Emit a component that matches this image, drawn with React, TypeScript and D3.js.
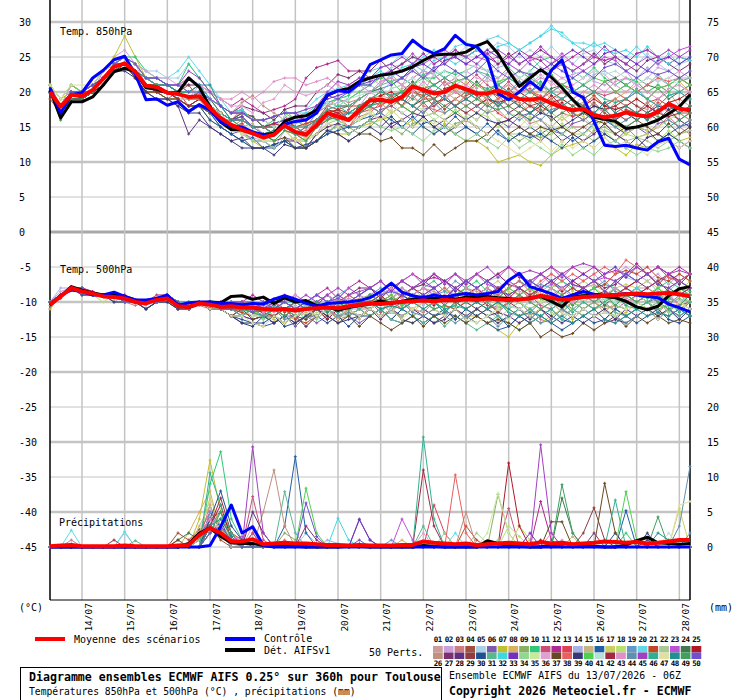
import React, { useEffect, useRef } from 'react';
import * as d3 from 'd3';

// 6-hourly steps, 13/07 06Z -> 28/07 06Z (61 steps)
const DAYS = ['14/07', '15/07', '16/07', '17/07', '18/07', '19/07', '20/07', '21/07', '22/07', '23/07', '24/07', '25/07', '26/07', '27/07', '28/07'];
const LEFT_TICKS = [30, 25, 20, 15, 10, 5, 0, -5, -10, -15, -20, -25, -30, -35, -40, -45];
const RIGHT_TICKS = [75, 70, 65, 60, 55, 50, 45, 40, 35, 30, 25, 20, 15, 10, 5, 0];

// Temp 850hPa
const MEAN_850 = [20.0, 17.9, 19.6, 19.4, 20.3, 21.9, 23.6, 24.1, 22.9, 20.9, 20.7, 19.9, 19.7, 19.3, 19.4, 17.7, 16.3, 15.3, 14.6, 14.1, 13.5, 13.9, 15.2, 14.3, 13.9, 15.3, 17.0, 16.5, 16.0, 17.4, 18.8, 18.9, 18.6, 19.3, 20.8, 20.3, 19.8, 20.0, 20.9, 20.4, 19.8, 19.8, 20.2, 19.7, 19.0, 18.9, 19.1, 18.4, 17.8, 17.4, 17.6, 16.7, 16.4, 16.6, 17.1, 16.7, 16.5, 17.2, 18.3, 17.6, 17.4];
const CTRL_850 = [20.6, 17.0, 19.6, 19.9, 22.0, 23.1, 24.6, 25.1, 22.5, 18.9, 19.0, 18.1, 18.6, 17.2, 18.2, 17.4, 15.7, 15.1, 15.0, 14.3, 13.9, 13.9, 15.4, 15.8, 16.0, 17.0, 19.6, 20.2, 20.0, 21.2, 23.9, 24.6, 25.3, 25.5, 27.4, 26.2, 25.5, 26.2, 28.1, 26.8, 26.5, 24.8, 19.8, 18.9, 20.0, 21.5, 20.3, 23.1, 24.6, 20.0, 19.2, 15.8, 12.4, 12.2, 12.4, 12.0, 11.7, 12.9, 13.4, 10.4, 9.6];
const DET_850 = [20.3, 16.3, 18.6, 18.6, 19.3, 21.0, 22.9, 23.4, 22.9, 20.6, 20.4, 19.9, 19.9, 22.0, 20.7, 17.9, 15.7, 14.6, 14.6, 14.1, 13.9, 14.1, 15.8, 16.4, 16.6, 17.4, 19.5, 20.2, 20.5, 21.5, 22.0, 22.4, 22.6, 23.0, 23.6, 24.5, 25.3, 25.4, 25.4, 25.7, 26.6, 27.2, 25.5, 23.0, 20.8, 22.0, 23.2, 22.1, 20.6, 18.9, 17.4, 16.4, 16.1, 15.8, 14.8, 15.0, 15.4, 16.0, 16.9, 17.9, 19.6];

// Temp 500hPa
const MEAN_500 = [-10.4, -9.2, -8.0, -8.5, -8.8, -9.2, -9.3, -9.5, -10.0, -10.2, -9.7, -9.5, -10.6, -10.7, -10.2, -10.4, -10.7, -10.6, -10.8, -10.8, -11.0, -11.1, -11.0, -11.2, -11.0, -10.9, -10.8, -10.9, -10.6, -10.4, -10.2, -10.3, -10.1, -10.0, -9.9, -9.8, -9.9, -9.7, -9.8, -9.6, -9.7, -9.5, -9.6, -9.7, -9.6, -9.5, -9.1, -9.4, -9.7, -9.5, -9.3, -9.2, -9.1, -9.0, -8.9, -8.8, -8.9, -8.8, -8.7, -8.9, -9.2];
const CTRL_500 = [-10.5, -9.0, -8.3, -8.5, -9.0, -9.0, -8.6, -9.2, -9.7, -9.7, -9.5, -9.0, -10.5, -10.1, -10.0, -10.0, -10.2, -10.2, -10.4, -10.2, -10.3, -9.6, -9.1, -9.6, -10.2, -10.6, -10.2, -10.1, -10.0, -9.8, -9.4, -8.5, -7.3, -8.6, -9.1, -9.4, -9.0, -9.3, -9.0, -8.8, -9.0, -8.8, -8.5, -6.9, -5.9, -7.8, -8.3, -8.8, -9.5, -9.0, -8.5, -8.9, -9.0, -9.0, -8.8, -9.0, -9.2, -9.4, -10.3, -10.8, -11.4];
const DET_500 = [-10.4, -9.2, -7.8, -8.3, -8.7, -9.0, -8.9, -9.2, -9.7, -10.0, -9.5, -9.2, -10.4, -10.8, -10.2, -10.0, -10.1, -9.2, -9.1, -9.6, -9.3, -10.2, -9.4, -10.0, -9.8, -10.5, -10.7, -11.2, -10.8, -10.5, -10.3, -9.8, -10.2, -9.9, -9.6, -9.3, -9.5, -9.2, -9.6, -9.3, -9.2, -9.2, -9.4, -9.5, -9.7, -9.4, -9.2, -9.9, -10.7, -9.2, -9.1, -9.0, -9.2, -9.4, -9.9, -10.7, -11.1, -10.6, -9.1, -8.1, -7.8];

// Precipitation (mm)
const MEAN_PREC = [0.1, 0.2, 0.3, 0.1, 0.1, 0.1, 0.1, 0.2, 0.1, 0.1, 0.1, 0.1, 0.2, 0.3, 1.7, 2.7, 2.0, 0.8, 0.8, 1.1, 0.4, 0.5, 0.6, 0.5, 0.5, 0.4, 0.3, 0.3, 0.2, 0.3, 0.2, 0.2, 0.2, 0.3, 0.3, 0.8, 0.6, 0.5, 0.4, 0.5, 0.3, 0.4, 0.5, 0.6, 0.5, 0.4, 0.7, 0.5, 0.6, 0.4, 0.5, 0.6, 0.8, 0.7, 0.6, 0.7, 0.5, 0.6, 0.8, 1.0, 1.0];
const CTRL_PREC = [0, 0, 0, 0, 0, 0, 0, 0, 0, 0, 0, 0, 0, 0, 0, 0.2, 2.9, 6.0, 2.0, 2.9, 0.2, 0, 0, 0, 0, 0, 0, 0, 0, 0, 0, 0, 0, 0, 0, 0, 0, 0, 0, 0, 0, 0, 0, 0, 0, 0, 0, 0, 0, 0, 0, 0, 0, 0, 0, 0, 0, 0, 0, 0, 0];
const DET_PREC = [0, 0, 0, 0, 0, 0, 0, 0, 0, 0, 0, 0, 0, 0.5, 2.0, 2.7, 1.5, 0.6, 0.5, 0.5, 0.2, 0.1, 0.1, 0.1, 0, 0, 0, 0, 0.1, 0.1, 0, 0, 0, 0, 0, 0.2, 0.1, 0, 0, 0, 0, 0.9, 0.5, 0.2, 0.1, 0, 0, 0.3, 0.5, 0.4, 0.2, 0.1, 0, 0, 0.3, 0.9, 1.4, 0.6, 0.5, 0.4, 0.5];

const PERT_COLORS = [
  '#cc9c9c', '#c8a0e0', '#d07a84', '#a0503c', '#a8d0e8', '#7c5cb0', '#c0c030', '#d8b060', '#88b060', '#30c878',
  '#c85078', '#b02890', '#e04050', '#a8b0e8', '#c8b480', '#2060a8', '#c8d060', '#b8e070', '#6498c8', '#60d8e8',
  '#c04828', '#a8c898', '#c050d8', '#407850', '#b01828', '#c09080', '#7c3070', '#603080', '#903c40', '#205090',
  '#58b890', '#40d8e0', '#7030c0', '#90d890', '#c8e8a0', '#e0a0d0', '#684820', '#e86060', '#383878', '#50d050',
  '#b8e0d8', '#a02840', '#e090c8', '#6090b0', '#a040c0', '#30b090', '#e0e0a0', '#209090', '#40a060', '#7050d0',
];

const PERT_850 = [
  [20, 18, 20, 20, 21, 22, 24, 25, 24, 22, 21, 21, 20, 19, 20, 18, 16, 15, 14.5, 14, 13, 14.5, 15, 14, 13.5, 15.5, 16, 17, 16, 17.5, 18, 19.5, 19, 20.5, 21, 20, 22.5, 21, 21.5, 22, 20.5, 22, 21, 23, 21.5, 20, 21, 19.5, 19, 18, 19.5, 18, 17, 18.5, 19, 18, 17.5, 19, 20, 18, 19],
  [21, 19, 21, 20, 20, 23, 25, 26, 24, 21, 20, 20, 19, 19, 21, 19, 17, 15, 14, 13.5, 13, 12, 14.5, 13, 13, 14, 16.5, 17, 16, 18, 20, 21.5, 22, 21, 23.5, 22, 23, 24.5, 25, 24, 23.5, 23, 24, 25.5, 24, 25, 23.5, 23, 22, 22.5, 23, 21.5, 21, 22, 23, 21, 22, 23.5, 23, 22, 22],
  [20, 17, 19, 19, 20, 22, 23, 24, 22, 20, 20, 19, 19, 18, 18, 17, 16, 15, 16, 15, 14, 13, 14.5, 14, 14.5, 16, 17, 16, 15, 16.5, 17, 18.5, 17, 18, 19.5, 18, 17.5, 17, 18, 19, 18, 17, 17.5, 16, 17, 15.5, 16, 15, 16.5, 15, 15, 14, 15.5, 16, 15, 13.5, 14, 15, 16.5, 15, 14],
  [19, 17, 20, 19, 20, 21, 23, 24, 23, 21, 21, 20, 20, 21, 19, 18, 17, 16, 17, 16.5, 15, 15.5, 16, 15, 14, 16, 18, 17.5, 16, 18, 19, 18, 19.5, 18, 20.5, 19, 19, 17.5, 19, 20, 19.5, 18, 19, 20.5, 19, 18, 18.5, 17, 18, 16.5, 17, 18.5, 17, 16, 17.5, 17, 16, 17, 18.5, 17, 17],
  [20, 18, 20, 20, 21, 22, 24, 25, 24, 23, 23, 22, 22, 24, 22, 20, 18, 16, 16.5, 15, 15, 15.5, 16, 16.5, 15, 17, 18, 19.5, 19, 20, 21.5, 22, 23.5, 24, 25, 24, 25.5, 24, 25, 26.5, 25, 26, 27, 26.5, 25, 26, 25, 26.5, 25, 24, 25.5, 26, 24.5, 24, 25, 24, 25.5, 24, 23, 24, 24.5],
  [20, 17, 19, 19, 20, 22, 23, 24, 23, 21, 20, 20, 19, 17, 18, 17, 15, 14, 14.5, 13, 13, 12, 13.5, 13, 12, 14, 15.5, 15, 14, 15, 16, 17.5, 18, 17, 16, 17.5, 18, 19.5, 18, 17, 16, 17.5, 16, 15, 16.5, 17, 16, 14.5, 14, 15.5, 16, 15, 14, 13, 14.5, 15, 14, 15.5, 16, 15, 15.5],
  [21, 19, 20, 20, 21, 23, 25, 28, 25, 22, 21, 20, 20, 19, 19, 18, 17, 15, 14, 13, 12, 12.5, 13, 13.5, 12, 13, 14.5, 14, 14, 15, 15.5, 16, 16.5, 15, 16, 15, 14, 15.5, 14, 13, 13, 12, 10, 10.5, 11, 10, 9.5, 11, 12, 12.5, 13, 12, 13.5, 12, 11, 12.5, 12, 13, 14, 13, 13.5],
  [20, 18, 21, 20, 20, 22, 24, 25, 23, 21, 21, 20, 19, 18, 19, 18, 16, 15, 15.5, 14, 14, 13, 14.5, 13, 13.5, 15, 16, 16.5, 17, 18, 18, 17, 18.5, 19, 18, 19.5, 20, 19, 20.5, 19, 18, 19.5, 20, 21, 20, 19, 20.5, 19, 18, 19, 20, 19.5, 18, 19, 20, 21.5, 20, 21, 20, 21.5, 20],
  [20, 16, 19, 19, 20, 21, 23, 24, 22, 20, 20, 19, 19, 18, 18, 16, 15, 14, 13, 12, 12, 12.5, 13, 12, 12.5, 13, 14.5, 15, 15, 14, 15, 16.5, 15, 14, 15.5, 16, 15, 14, 15.5, 16, 15, 14, 15.5, 14, 13, 14, 13.5, 14, 15, 14, 13, 14.5, 15, 14, 13, 12, 13.5, 14, 13, 14, 14.5],
  [20, 18, 20, 20, 21, 22, 24, 25, 25, 23, 22, 21, 21, 24, 22, 20, 18, 16, 16.5, 15, 15, 16, 17.5, 16, 16, 18, 18.5, 19, 19.5, 21, 21, 22.5, 21, 22, 23.5, 22, 22, 23, 22.5, 23, 24, 23, 22, 23.5, 22, 23, 24.5, 25, 24, 23, 22, 23.5, 22, 21, 22, 21.5, 20, 21, 20, 21.5, 22],
  [21, 18, 20, 19, 20, 22, 24, 24, 23, 21, 20, 20, 19, 18, 19, 18, 17, 16, 17.5, 16, 16, 15, 16.5, 15, 15.5, 16, 17, 16, 17.5, 19, 20, 21, 22.5, 21, 22, 23, 22.5, 21, 22, 21, 22.5, 21, 20, 21.5, 20, 20.5, 19, 20, 21, 20.5, 19, 20, 19.5, 20, 21, 20, 19, 20.5, 21, 22, 21],
  [20, 17, 20, 20, 21, 23, 24, 25, 24, 22, 22, 21, 21, 22, 21, 20, 19, 18, 19, 18, 17, 17.5, 18, 19, 22, 23.5, 24, 24.5, 23, 23, 22, 23.5, 24, 23, 24, 25.5, 24, 25, 26, 25, 26, 25.5, 24, 25, 26, 25, 24.5, 23, 24, 25, 26, 25, 24.5, 25, 24, 25.5, 26, 25, 24, 25, 24.5],
  [20, 18, 20, 19, 20, 22, 23, 24, 23, 21, 20, 19, 20, 18, 18, 17, 16, 15, 15.5, 14, 14, 13, 14.5, 14, 13, 15, 16, 16.5, 15, 17, 17.5, 18, 19, 18, 17, 18.5, 17, 18, 19, 18, 17, 18.5, 17, 16, 17, 18, 17.5, 16, 17, 16.5, 17, 16, 17.5, 18, 17, 16, 17, 18.5, 17, 16, 17],
  [20, 18, 21, 20, 21, 22, 24, 25, 24, 22, 22, 21, 20, 19, 20, 19, 18, 17, 17.5, 16, 16, 15, 16.5, 15.5, 16, 17, 18, 18.5, 19, 20, 21, 20, 21.5, 22, 23, 22, 23.5, 22, 21, 22, 23, 22, 23.5, 24, 23, 22, 21, 22.5, 21, 22, 21, 22.5, 23, 22, 21, 22, 23.5, 22, 21, 22, 23],
  [20, 17, 20, 20, 20, 22, 24, 24, 23, 21, 21, 20, 20, 19, 19, 18, 17, 16, 15, 15.5, 14, 14, 15.5, 14, 14, 15, 16.5, 17, 16, 17, 18, 18.5, 17, 18, 19, 18.5, 19, 20, 19, 18, 19, 18.5, 19, 18, 17, 18.5, 17, 18, 19, 18, 18.5, 17, 18, 17.5, 18, 19, 18, 17, 18.5, 19, 18],
  [20, 18, 20, 19, 20, 22, 23, 24, 23, 22, 21, 20, 20, 19, 19, 17, 15, 14, 13, 13.5, 12, 12, 13, 12, 12.5, 13, 14, 15.5, 15, 16, 16.5, 17, 16, 15, 16.5, 15, 14, 15, 16.5, 15, 14, 15.5, 14, 13, 14, 13.5, 14, 15, 14, 13, 14, 15.5, 16, 15, 14, 15, 14.5, 13, 14, 15, 16],
  [20, 18, 20, 20, 21, 22, 24, 25, 24, 22, 21, 20, 20, 19, 19, 18, 17, 16, 16.5, 15, 15, 14, 15.5, 15, 14, 16, 17.5, 17, 17, 18, 19, 19.5, 20, 19, 20.5, 21, 20, 19, 20, 21.5, 20, 19, 20.5, 19, 18, 17, 18.5, 17, 16, 17, 16.5, 15, 16, 15.5, 14, 15, 14.5, 15, 16, 17, 16],
  [21, 19, 21, 20, 21, 22, 24, 24, 23, 22, 21, 20, 19, 18, 19, 17, 16, 15, 14, 14.5, 13, 13, 14.5, 13, 13.5, 14, 15, 15.5, 16, 16, 17.5, 16, 17, 18, 17, 16.5, 17, 16, 17.5, 16, 17, 16.5, 15, 16, 15, 16.5, 15, 14, 15.5, 14, 14, 15, 14.5, 13, 14, 13.5, 14, 13, 14.5, 13, 12],
  [20, 18, 20, 20, 21, 22, 24, 25, 24, 22, 22, 21, 21, 20, 20, 18, 17, 16, 16.5, 15, 15, 15.5, 16, 16, 15, 17, 18.5, 18, 18, 19, 20, 20.5, 21, 22, 21, 22.5, 21, 22, 23, 22, 21, 22.5, 21, 20, 21.5, 20, 21, 20, 19, 20.5, 19, 20, 21.5, 20, 19, 20.5, 19, 18, 19.5, 20, 19],
  [20, 18, 20, 20, 21, 23, 24, 25, 24, 23, 22, 22, 23, 25, 23, 21, 19, 17, 17.5, 16, 16, 16.5, 17, 17, 17.5, 19, 20, 20.5, 21, 22, 23, 23.5, 24, 25.5, 24, 25, 26, 25, 26.5, 27, 26, 27.5, 28, 27, 26, 27, 28, 29.5, 28, 27, 27, 26.5, 27, 26, 25, 26.5, 25, 24, 25.5, 24, 25],
  [20, 17, 19, 19, 20, 21, 23, 24, 22, 20, 20, 19, 19, 18, 18, 17, 16, 16, 17, 16.5, 15, 15, 16.5, 15, 15.5, 16, 17, 17.5, 18, 18, 19, 19.5, 18, 19, 20, 19.5, 18, 19, 18, 19.5, 20, 19, 18, 19.5, 18, 19, 18.5, 19, 20, 19, 18, 19.5, 18, 19, 18, 17, 18.5, 19, 18, 17, 18],
  [20, 18, 20, 20, 21, 22, 24, 24, 23, 21, 21, 20, 19, 19, 19, 18, 16, 15, 14, 14.5, 13, 13, 14.5, 13, 13, 14, 15.5, 16, 15, 16, 17, 16, 17.5, 16, 15, 16.5, 17, 16, 15, 16.5, 15, 14, 15.5, 14, 14, 13, 14.5, 13, 14, 15, 14, 13, 14.5, 14, 13, 13.5, 13, 12, 13, 14, 14.5],
  [20, 18, 20, 20, 20, 22, 24, 25, 24, 22, 22, 21, 21, 22, 21, 19, 18, 17, 17.5, 16, 16, 16.5, 17, 17, 16, 18, 19.5, 20, 20, 21, 22, 22.5, 23, 24, 25.5, 24, 25, 26, 25, 24, 25, 24.5, 25, 24, 23, 24.5, 25, 24, 25.5, 24, 23, 24, 25, 24.5, 23, 24, 25, 24, 25, 26, 26.5],
  [20, 18, 20, 20, 21, 22, 23, 24, 23, 21, 21, 20, 20, 20, 21, 19, 17, 16, 17, 16.5, 15, 15, 16.5, 16, 16, 17, 18.5, 18, 18, 19, 20, 20.5, 19, 20, 21.5, 20, 21, 22, 21, 20, 21.5, 20, 21, 22, 21, 20, 19, 20.5, 21, 20, 19, 20, 21.5, 22, 21, 20, 21, 20.5, 19, 20, 21],
  [20, 17, 20, 19, 20, 22, 24, 24, 23, 21, 20, 20, 19, 18, 19, 18, 17, 16, 16, 15, 15, 14, 15.5, 15, 14, 16, 17, 17.5, 16, 18, 18, 19.5, 20, 19, 18, 19, 20, 21.5, 20, 19, 18, 19, 18.5, 19, 20, 19, 18, 17, 18.5, 17, 18, 19, 18, 17.5, 18, 19, 18, 17, 18.5, 19, 20],
  [20, 18, 21, 20, 21, 22, 24, 25, 23, 22, 21, 21, 20, 19, 20, 19, 18, 17, 18.5, 19.5, 18, 17, 16, 16.5, 17, 17, 18, 19, 18.5, 19, 20, 19, 20.5, 21, 20, 19, 20, 21.5, 20, 19, 20, 19.5, 18, 19, 18.5, 17, 18, 19, 18, 17, 18, 17, 18.5, 19, 18, 17, 18.5, 17, 18, 17, 16],
  [20, 18, 20, 20, 21, 22, 24, 25, 24, 22, 22, 21, 21, 21, 21, 19, 18, 17, 18, 17.5, 17, 16, 17.5, 18, 18, 20, 21, 22.5, 22, 23, 23, 24.5, 23, 24, 25, 24.5, 25, 24, 25.5, 25, 26, 25, 24, 25.5, 24, 25, 26, 25, 24, 23, 24, 25.5, 24, 25, 24, 23, 24.5, 25, 24, 23, 24],
  [20, 17, 19, 19, 20, 21, 23, 24, 22, 20, 19, 19, 18, 14, 16, 15, 14, 13, 13.5, 12, 12, 12.5, 13, 13, 12, 14, 15, 15.5, 14, 15, 16, 16.5, 15, 16, 17, 16.5, 15, 16, 17, 16, 15, 14, 15.5, 16, 15, 14, 13, 14.5, 13, 14, 13, 14, 15.5, 14, 13, 12, 13.5, 14, 13, 12, 13],
  [20, 18, 20, 20, 21, 22, 24, 25, 24, 22, 21, 21, 20, 19, 19, 18, 17, 16, 16, 15, 15, 14, 15.5, 14, 14, 15, 16, 17.5, 17, 18, 19, 20, 19.5, 20, 21, 20, 19, 20.5, 21, 20, 19, 20, 19.5, 18, 19, 18, 17, 18.5, 19, 18, 17, 18, 17.5, 18, 19, 18, 17, 16, 17.5, 18, 17],
  [20, 18, 20, 20, 21, 22, 24, 24, 23, 21, 21, 20, 19, 18, 18, 16, 15, 14, 13, 12, 12, 12.5, 13, 12, 12, 13, 14, 14.5, 15, 15, 16, 15, 16.5, 15, 14, 15.5, 16, 15, 14, 15, 14, 13, 14.5, 13, 14, 15, 14, 13, 12, 13.5, 12, 13, 14, 13, 12, 13.5, 12, 13, 14, 13, 12],
  [20, 18, 20, 20, 21, 22, 24, 25, 24, 22, 21, 21, 20, 20, 20, 19, 18, 17, 17.5, 16, 16, 15, 16.5, 16, 16, 17, 18.5, 19, 18, 19, 20, 21, 21.5, 22, 21, 22.5, 23, 22, 23, 22, 23, 22.5, 21, 22, 21, 22.5, 21, 20, 21, 22, 21, 20, 21.5, 20, 21, 22, 21, 22.5, 21, 20, 21],
  [20, 18, 20, 20, 21, 22, 24, 25, 24, 22, 22, 21, 21, 22, 21, 19, 18, 17, 17.5, 16, 16, 16.5, 17, 17, 17, 18, 19.5, 20, 20.5, 21, 22, 23, 22, 23.5, 24, 23, 24.5, 25, 24, 25, 26, 25, 26.5, 27, 26, 27, 28, 29, 28.5, 27, 26, 27, 26, 25.5, 26, 25, 26.5, 25, 24, 25, 24.5],
  [20, 17, 20, 20, 21, 22, 24, 25, 24, 22, 21, 21, 20, 19, 20, 18, 17, 16, 16.5, 15, 15, 15.5, 16, 16.5, 16, 18, 19, 19.5, 20, 21, 21.5, 22, 23, 22, 23.5, 24, 23, 24.5, 25, 24, 25, 26, 25, 24, 25.5, 24, 23, 24, 25, 26, 25, 24, 25.5, 26, 25, 24, 23, 24.5, 25, 24, 25],
  [20, 18, 20, 20, 21, 22, 24, 24, 23, 21, 20, 19, 19, 18, 18, 17, 16, 15, 14, 13, 13, 12, 13.5, 12, 12, 13, 14.5, 15, 14, 15, 16, 15, 14.5, 15, 14, 13, 14.5, 15, 14, 13, 14, 13, 12, 13.5, 12, 13, 12, 11, 12.5, 11, 12, 11, 12.5, 13, 12, 11, 12, 11.5, 12, 13, 12],
  [20, 18, 20, 20, 21, 22, 24, 25, 24, 22, 21, 20, 20, 19, 19, 18, 17, 16, 15, 14, 14, 14.5, 15, 14, 14, 15.5, 16, 16, 17, 17.5, 18, 17, 18.5, 17, 18, 17.5, 16, 17, 18, 17, 16, 17.5, 16, 17, 16.5, 15, 16, 15, 16.5, 17, 16, 15, 16.5, 15, 16, 17, 16.5, 15, 16, 17, 18],
  [20, 18, 21, 20, 21, 22, 24, 25, 24, 23, 22, 22, 21, 22, 21, 20, 19, 18, 18, 17, 18.5, 19, 21, 20, 19.5, 20, 21, 20, 21, 22, 22, 21, 22.5, 21, 22, 23, 22.5, 21, 22, 23, 22, 21.5, 22, 23, 22, 21, 22.5, 21, 22, 21, 22, 23, 22.5, 21, 20, 21, 22, 21.5, 22, 23, 22],
  [20, 17, 19, 19, 20, 21, 23, 24, 22, 20, 20, 19, 19, 18, 18, 17, 16, 15, 15, 14, 14, 13, 13.5, 12, 12, 13, 14.5, 14, 13, 14, 14, 13, 13.5, 12, 12, 11, 12.5, 11, 12, 13, 13, 14, 15.5, 14, 15, 14, 15, 14.5, 15, 14, 15, 16, 15.5, 14, 15, 16, 15, 14, 15.5, 14, 15],
  [20, 18, 20, 20, 21, 22, 24, 25, 24, 22, 21, 21, 20, 19, 19, 18, 17, 16, 16, 15, 15, 15.5, 15, 15, 15, 16, 17.5, 17, 17, 18, 19, 18, 19.5, 20, 19, 20.5, 19, 20, 21, 20, 21, 20.5, 19, 20, 21, 20, 19.5, 18, 19, 20, 21, 20, 21.5, 20, 19, 20, 21, 22, 21.5, 22, 21],
  [20, 17, 19, 19, 20, 21, 23, 23, 22, 20, 19, 19, 18, 17, 17, 15, 14, 13, 12, 12, 12, 11, 12.5, 12, 12, 13, 14.5, 14, 13, 14, 15, 14, 15.5, 16, 15, 16.5, 15, 14, 15, 16, 17, 16, 15.5, 16, 17, 16, 17, 16.5, 15, 16, 17, 18, 17.5, 16, 17, 16, 17, 18, 17.5, 16, 15],
  [21, 19, 21, 20, 21, 23, 24, 25, 24, 22, 21, 21, 20, 20, 20, 19, 18, 17, 17, 16, 16, 16.5, 17, 16, 16, 17, 18.5, 18, 19, 20, 21, 22, 21.5, 20, 21, 22, 21, 20, 21.5, 22, 21, 20, 21.5, 22, 23, 22, 21, 22.5, 21, 20, 21, 22, 21.5, 20, 21, 20, 19, 20.5, 21, 22, 21],
  [20, 18, 20, 20, 21, 22, 24, 25, 24, 22, 22, 21, 21, 20, 20, 19, 18, 17, 17, 16, 16, 15, 16.5, 16, 16, 17, 18.5, 18, 19, 19.5, 20, 19, 20.5, 21, 22, 21, 22.5, 23, 22, 23, 24, 23, 24.5, 23, 22, 23, 22, 23.5, 24, 23, 22, 23, 22.5, 23, 22, 21, 22, 21.5, 22, 21, 20],
  [20, 18, 20, 20, 20, 22, 23, 24, 23, 21, 20, 20, 19, 18, 19, 18, 17, 16, 16, 15, 15, 15.5, 15, 14, 15, 16, 17.5, 17, 16, 17, 18, 17, 18.5, 19, 18, 17, 18.5, 19, 18, 17, 18, 19, 18.5, 17, 18, 17, 18, 19.5, 18, 17, 16, 17, 18.5, 17, 16, 17, 18, 17, 16.5, 17, 18],
  [20, 18, 20, 20, 21, 22, 24, 25, 24, 22, 22, 21, 21, 22, 21, 20, 19, 19, 20, 19, 20, 21.5, 22, 22, 21, 21.5, 22, 21, 20, 21, 20, 21.5, 22, 21, 20, 21.5, 20, 19, 20, 21, 20, 19, 20.5, 21, 20, 21, 22, 21.5, 20, 19, 20, 21, 20, 21.5, 22, 21, 20, 19, 20.5, 21, 20],
  [20, 18, 20, 20, 21, 22, 24, 25, 24, 22, 21, 21, 20, 19, 20, 18, 17, 16, 16, 15, 14, 14.5, 15, 15, 14, 16, 17, 16.5, 17, 18, 18, 17, 18.5, 19, 18, 17, 18.5, 17, 18, 19, 18, 17, 18.5, 17, 16, 17, 16, 17.5, 18, 17, 16, 17, 16.5, 15, 16, 17, 16, 17.5, 16, 15, 16],
  [20, 17, 20, 20, 21, 22, 24, 25, 24, 22, 22, 21, 21, 23, 22, 20, 18, 17, 17, 16, 16, 16.5, 17, 17, 17.5, 18, 20, 21.5, 21, 22, 22, 23.5, 24, 25, 24, 25.5, 24, 25, 26, 25, 24, 25.5, 26, 25, 24, 25, 26.5, 25, 24, 23, 24, 25, 26.5, 25, 24, 25.5, 26, 25, 26, 25, 26],
  [20, 18, 20, 20, 21, 22, 24, 25, 24, 22, 22, 21, 20, 19, 20, 18, 17, 16, 16, 15, 15, 14, 15.5, 15, 15, 16, 17.5, 18, 17, 18, 19, 20, 19.5, 20, 19, 20.5, 21, 20, 21, 20, 19, 20.5, 21, 20, 19, 20, 21.5, 20, 19, 20, 21, 20, 19, 18.5, 19, 20, 19, 18, 19.5, 20, 19],
  [21, 19, 21, 21, 21, 23, 24, 25, 24, 22, 21, 20, 20, 19, 19, 18, 17, 15, 14, 14, 13, 13, 14.5, 13, 13, 14, 15.5, 15, 16, 16, 17, 16, 17.5, 16, 15, 16, 15.5, 16, 15, 16, 15, 14, 13, 12, 11, 12, 13, 11.5, 13, 12, 13, 12, 13.5, 12, 13, 12, 11, 12.5, 13, 12, 13],
  [20, 18, 20, 20, 21, 22, 24, 24, 23, 22, 21, 21, 20, 20, 21, 21, 18, 16, 15, 14, 14, 14.5, 15, 14, 14, 15, 16.5, 16, 17, 17, 18, 19, 18.5, 19, 18, 19.5, 20, 19, 18, 19, 20, 19.5, 18, 19, 18, 17, 18.5, 17, 18, 19, 18, 17, 18.5, 17, 18, 17, 16, 17.5, 18, 17, 18],
  [20, 16, 19, 19, 20, 22, 23, 24, 23, 21, 21, 20, 20, 19, 19, 18, 16, 15, 15, 14, 14, 13, 14.5, 14, 13, 15, 16, 16.5, 16, 17, 18, 18.5, 19, 18, 17, 18.5, 19, 18, 17, 18, 19, 18, 17.5, 18, 17, 16, 17.5, 16, 17, 18, 17, 16, 17.5, 16, 15, 16, 17, 16.5, 15, 16, 17],
  [20, 18, 20, 20, 21, 22, 24, 25, 24, 22, 22, 21, 21, 20, 20, 19, 18, 17, 17, 16, 16, 16.5, 17, 17, 16, 18, 19.5, 19, 20, 21, 21, 22.5, 21, 22, 23, 22, 23.5, 24, 23, 22, 23, 24.5, 23, 22, 23, 22.5, 23, 24, 23, 22, 23, 22, 23.5, 24, 23, 22, 23, 22.5, 23, 22, 23],
];

const PERT_500 = [
  [-10.5, -9, -8, -8.5, -9, -9, -9.5, -9.5, -10, -10, -9.5, -9.5, -10.5, -11, -10, -10.5, -11, -11, -11.5, -10.5, -11, -12, -11, -11.5, -10.5, -10, -10.5, -10, -10, -9.5, -9, -10, -9.5, -8.5, -9, -8, -8.5, -9.5, -9, -8, -8.5, -9, -8, -7, -8, -9, -8.5, -7.5, -8, -9, -8, -7.5, -8.5, -9, -9.5, -8, -8, -9, -9.5, -8.5, -9],
  [-10, -8.5, -8, -8, -9, -9, -10, -9, -10, -10.5, -9, -9, -10, -11, -10, -10, -10.5, -10, -11, -11.5, -11, -11, -12, -11, -12, -11, -11.5, -12, -11, -11, -10, -11, -10.5, -10, -9, -10, -9.5, -10, -9, -8, -9, -8, -9.5, -8, -7, -8, -7.5, -6, -7, -8, -7, -6, -7.5, -6, -5, -6, -7, -6, -7.5, -6, -7],
  [-11, -9, -8, -9, -9, -9, -9, -10, -10.5, -10, -10, -10, -11, -11, -10.5, -11, -11, -12, -11, -12.5, -12, -11, -12, -13, -12, -12, -11, -12.5, -12, -11, -11, -12, -11.5, -10, -11, -11.5, -10, -11, -12.5, -11, -12, -11, -10, -11.5, -12, -11, -12.5, -13, -12, -11, -12, -11, -12.5, -13, -12, -11, -10, -11.5, -12, -11, -12],
  [-10, -9, -8, -8, -8.5, -9, -9, -9, -10, -10, -10, -9, -10, -10.5, -10, -10, -10.5, -11, -10, -10, -11, -10, -11.5, -10, -11, -11, -12, -11, -10, -10.5, -11, -10, -11.5, -12, -11, -10, -9, -10.5, -11, -10, -9, -10.5, -11, -10, -9, -8, -9.5, -10, -9, -8, -9, -10, -9.5, -8, -9, -10, -11, -10, -9, -10.5, -10],
  [-10, -9, -8, -9, -9, -9, -10, -10, -10, -10, -9, -10, -11, -10, -10, -11, -11, -10, -11, -11.5, -10, -11, -10, -10, -11, -10, -10, -9, -10, -9, -8, -9.5, -8, -7, -8, -7.5, -8, -7, -6, -7.5, -6, -7, -6.5, -7, -8, -7, -6, -7.5, -8, -7, -6, -7, -6, -5, -6.5, -7, -6, -7, -6.5, -7, -6],
  [-10, -9.5, -8, -8, -9, -9, -9, -10, -10, -11, -10, -9, -11, -11, -10, -10, -11, -11, -12, -12.5, -12, -13, -12, -13.5, -12, -13, -12, -11, -12, -13, -12, -11, -12.5, -11, -10, -11, -12, -11.5, -10, -11, -10, -9, -10.5, -11, -10, -11.5, -10, -9, -10, -11, -10, -9, -10.5, -9, -10, -11, -10, -9, -10.5, -9, -10],
  [-11, -9, -8, -8, -9, -9, -9, -10, -10, -10, -10, -9, -10, -11, -10, -10, -11, -11, -11.5, -12, -12, -12.5, -13, -12, -13.5, -12, -11, -12, -11, -10, -11, -12, -11, -12.5, -13, -12, -11, -12, -11, -12, -12, -13, -14, -15, -13, -12, -13, -12, -11, -12.5, -11, -10, -11, -12, -11.5, -10, -11, -12, -11, -10, -11],
  [-10, -9, -8, -8, -9, -9, -9, -10, -10, -10, -10, -10, -10, -11, -10, -10, -11, -12, -13, -13, -13.5, -12, -13, -12, -11, -12, -11, -12.5, -11, -12, -11, -10, -11, -10.5, -11, -10, -9, -10, -9.5, -10, -9, -10, -9, -10.5, -11, -10, -9, -10, -9, -10.5, -9, -8, -9.5, -10, -9, -10, -9, -8, -9.5, -8, -9],
  [-10, -9, -8, -9, -9, -9, -9, -10, -10, -10, -10, -9, -11, -11, -10, -10, -11, -10, -11, -11.5, -10, -11, -11, -10, -10.5, -11, -10, -11, -10, -9, -10, -9.5, -10, -9, -8, -9, -10, -9.5, -8, -9, -10, -9, -10.5, -9, -10, -11, -10, -9, -10.5, -9, -10, -11, -10, -9, -10.5, -9, -8, -9, -10, -9.5, -10],
  [-10, -9, -8, -8, -9, -9, -10, -10, -10, -10, -10, -9, -10, -10, -10, -11, -11, -11, -10, -11.5, -11, -10, -11, -12, -11, -10, -11.5, -10, -11, -10, -9, -10, -9, -10.5, -9, -8, -7, -8.5, -9, -8, -7, -8.5, -9, -8, -7, -8, -9.5, -8, -7, -8, -9, -8, -7.5, -8, -9, -8, -9.5, -8, -7, -8, -8.5],
  [-10, -9, -8, -8, -9, -9, -9, -10, -10, -10, -9, -9, -10, -11, -10, -11, -11, -12, -11, -11.5, -12, -11, -11, -12.5, -11, -11, -10, -11, -12, -11, -10, -11.5, -10, -11, -10, -11, -12, -11.5, -10, -11, -10, -11, -10.5, -9, -10, -9, -10.5, -11, -10, -9, -10, -11, -10.5, -11, -10, -9, -10, -11.5, -10, -11, -10],
  [-10, -9, -8, -8, -8.5, -9, -9, -9, -10, -10, -10, -9, -10, -10, -10, -10, -10, -10, -10, -9, -10, -9.5, -10, -9, -10, -9, -8, -9.5, -8, -7, -8, -7, -8.5, -7, -6, -7, -6.5, -7, -6, -7.5, -6, -7, -6, -5, -6.5, -7, -6, -5, -6, -5, -6, -5, -6.5, -7, -6, -4.5, -6, -5, -6, -5, -6],
  [-10, -9, -8, -9, -9, -9, -9, -10, -10, -10, -10, -9, -11, -11, -10, -11, -10, -11, -11, -11.5, -11, -12, -11, -11, -12, -11, -10, -11, -10.5, -10, -10, -9, -10.5, -9, -10, -9, -10, -9.5, -8, -9, -8, -9.5, -10, -9, -10, -9, -8, -9.5, -8, -9, -8, -7, -8.5, -7, -8, -7, -6, -7.5, -8, -7, -8],
  [-10, -8, -8, -8, -9, -9, -9, -10, -10, -10, -10, -9, -10, -11, -10, -10, -11, -11, -11.5, -10, -11, -10, -11, -10.5, -11, -12, -11, -10, -11.5, -10, -9, -10, -9.5, -10, -9, -10.5, -9, -8, -9, -10, -9, -8, -9.5, -10, -9, -8, -9, -10.5, -9, -8, -9, -10, -9.5, -8, -9, -8, -7, -8.5, -9, -8, -9],
  [-10, -9, -8, -8, -9, -9, -9, -10, -10, -10, -10, -9, -10, -11, -10, -10, -11, -10, -11, -12, -11.5, -12, -11, -12, -11.5, -12, -11, -12, -11, -12.5, -11, -12, -11, -10, -11.5, -10, -11, -10.5, -11, -10, -11, -10, -11.5, -12, -11, -10, -11, -12.5, -11, -10, -11, -10, -11.5, -10, -9, -10, -11, -10.5, -11, -10, -11],
  [-10, -9, -8, -9, -9, -9, -9, -10, -10, -11, -10, -9, -11, -11, -10, -10, -11, -12, -13, -13, -13.5, -13, -12, -13, -12, -11, -12.5, -11, -12, -11, -12, -11, -12.5, -13, -12, -11, -12, -11.5, -12, -13, -12, -13, -14, -13.5, -12, -13, -12, -11, -12.5, -13, -12, -11, -12.5, -11, -12, -11, -10, -11.5, -12, -11, -12],
  [-10, -9, -8, -8, -9, -9, -9, -10, -10, -10, -10, -9, -10, -11, -10, -10, -11, -11, -11, -11.5, -11, -11, -12, -11, -11, -10, -11, -10, -9.5, -10, -9, -10, -9, -8, -9.5, -10, -9, -8, -9, -8.5, -9, -8, -7, -8.5, -9, -8, -9, -8, -7, -8.5, -7, -8, -9, -8, -7.5, -8, -7, -8, -9, -8.5, -7],
  [-10, -9, -8, -8, -9, -10, -9, -10, -10, -10, -10, -10, -11, -11, -10, -11, -11, -12, -12, -11, -12.5, -11, -12, -11, -12, -11.5, -12, -11, -10, -11, -10, -11, -10.5, -11, -12, -11, -10, -11.5, -10, -9, -10, -9, -10.5, -11, -10, -11, -10, -9, -10.5, -11, -10, -11, -10, -11.5, -12, -11, -10, -11, -10.5, -11, -10],
  [-10, -9, -8, -8, -9, -9, -9, -10, -10, -10, -10, -9, -10, -10, -10, -10, -11, -10, -11, -10.5, -11, -10, -10, -11, -10, -10, -9, -10.5, -9, -10, -9, -8, -9.5, -8, -9, -8, -9, -8.5, -7, -8, -9, -8, -9.5, -8, -7, -8, -7.5, -8, -9, -8, -9, -8, -7, -8.5, -9, -8, -9, -10, -9.5, -8, -9],
  [-10, -9, -8, -8, -9, -9, -9, -10, -10, -10, -10, -9, -10, -11, -10, -10, -11, -11, -10, -11.5, -11, -10, -11, -10, -10.5, -9, -10, -9, -8, -9, -8, -9, -8.5, -9, -8, -9.5, -8, -7, -8, -9, -8, -7, -8.5, -9, -8, -7, -8, -7.5, -8, -9, -8, -7, -8.5, -7, -8, -9, -8, -7, -8.5, -7, -8],
  [-10, -9, -8, -8, -9, -9, -9, -10, -10, -10, -10, -9, -11, -11, -10, -10, -11, -11, -11.5, -12, -11, -12, -11, -12.5, -13, -12, -11, -12, -11.5, -12, -11, -10, -11.5, -10, -11, -10, -9, -10.5, -11, -10, -9, -10, -11, -10.5, -9, -10, -9, -10.5, -9, -8, -9, -8, -7.5, -6, -5.5, -6, -5, -6.5, -7, -6, -7],
  [-10, -9, -8, -8, -9, -9, -9, -10, -10, -10, -10, -10, -11, -11, -10, -10, -11, -12, -11, -12.5, -12, -11, -12, -11, -12, -12.5, -11, -12, -12, -11, -12, -11, -12.5, -11, -12, -13, -12, -11, -12.5, -11, -12, -11, -12.5, -11, -12, -11, -10, -11.5, -12, -11, -10, -11, -10.5, -11, -12, -11, -10, -11.5, -12, -11, -12],
  [-10, -9, -8, -8, -9, -9, -9, -10, -10, -10, -10, -9, -10, -11, -10, -10, -10, -11, -10, -11, -10.5, -11, -10, -11, -10, -9, -10, -9.5, -8, -9, -8, -7, -8.5, -7, -6, -7.5, -8, -7, -8, -7, -6, -7.5, -8, -7, -8, -7, -6, -7.5, -6, -7, -6, -7, -6.5, -7, -8, -7, -6, -5, -6.5, -7, -6],
  [-10, -9, -8, -8, -9, -9, -9, -10, -10, -10, -10, -9, -11, -11, -10, -10, -11, -11, -11, -10, -11.5, -10, -11, -11, -10, -11, -10, -11.5, -10, -9, -10, -9, -10.5, -9, -10, -9, -10, -11, -10.5, -9, -10, -9, -8, -9.5, -10, -9, -8, -9.5, -10, -9, -8, -9, -10.5, -9, -8, -9, -10, -9.5, -8, -9, -10],
  [-10, -9, -8, -8, -9, -9, -9, -10, -10, -10, -10, -9, -10, -11, -10, -11, -11, -10, -11, -11.5, -12, -11, -12, -11, -10, -11, -12.5, -11, -10, -11, -10, -11, -10.5, -9, -10, -9, -10.5, -9, -10, -9, -8, -9.5, -8, -9, -8, -9.5, -8, -7, -8.5, -7, -8, -7, -8.5, -9, -8, -7, -6, -7.5, -6, -7, -8],
  [-10, -9, -8, -8, -9, -9, -10, -10, -10, -10, -10, -9, -10, -11, -10, -10, -11, -11, -10, -11.5, -11, -12, -11, -10, -11, -10, -11.5, -10, -11, -10, -11, -10, -9, -10.5, -9, -10, -11, -10.5, -9, -10, -9, -10, -9.5, -8, -9, -10, -9, -10.5, -9, -10, -9, -10, -11, -10.5, -9, -10, -9, -10, -11.5, -10, -9],
  [-10, -9, -8, -8, -9, -9, -9, -10, -10, -10, -10, -9, -10, -11, -10, -10, -11, -11, -11, -11.5, -11, -10, -11, -10, -10, -10.5, -9, -10, -9, -8, -8, -9.5, -8, -7, -8, -7.5, -6, -7, -8, -7, -8, -7, -6, -7.5, -8, -7, -8, -7, -6, -7.5, -8, -7, -8, -7.5, -6, -7, -8, -7, -6, -7.5, -6],
  [-10, -9, -8, -8, -9, -9, -9, -10, -10, -10, -10, -9, -10, -11, -10, -11, -11, -12, -12, -12.5, -12, -13, -12, -12, -13.5, -12, -11, -12, -11, -12, -11, -12.5, -11, -12, -11, -12, -13, -12.5, -11, -12, -11, -12, -11.5, -12, -13, -12, -11, -12.5, -11, -12, -11, -12, -13, -12.5, -11, -12, -11, -12.5, -11, -12, -11],
  [-10, -9, -8, -8, -9, -9, -9, -10, -10, -10, -10, -9, -10, -11, -10, -10, -11, -11, -10, -11, -11.5, -11, -10, -11, -11, -12, -11, -12.5, -11, -10, -11, -10, -11.5, -10, -9, -10, -9.5, -10, -9, -10, -11, -10, -11.5, -10, -11, -12, -11, -10, -11.5, -10, -11, -10, -9, -10.5, -11, -10, -9, -10, -9.5, -10, -9],
  [-10, -9, -8, -8, -9, -9, -9, -10, -10, -11, -10, -10, -11, -11, -10, -11, -11, -12, -12.5, -13, -13, -12, -13.5, -13, -12, -12, -13, -12, -13.5, -12, -12, -11, -12.5, -11, -12, -13, -12, -11, -12.5, -11, -12, -11, -12, -13.5, -12, -13, -12, -13, -14, -13, -12, -13, -12.5, -11, -12, -13, -12, -11, -12.5, -13, -12],
  [-10, -9, -8, -8, -9, -9, -9, -10, -10, -10, -10, -9, -11, -11, -10, -10, -11, -11, -12, -11, -12.5, -11, -12, -11, -12.5, -11, -10, -11, -12, -11, -12, -11, -12.5, -13, -12, -13, -12, -13.5, -12, -13, -14, -13, -12, -13, -14, -13, -12, -11, -12.5, -11, -12, -11, -10, -11.5, -12, -11, -10, -11, -10.5, -11, -12],
  [-10, -9, -8, -8, -9, -9, -9, -10, -10, -10, -10, -9, -10, -10, -10, -10, -11, -10, -11, -10, -10, -11, -10, -10, -11, -10, -11, -10, -9, -10, -9, -10, -9.5, -10, -9, -8, -9, -10, -9.5, -10, -9, -10, -9, -10.5, -11, -10, -9, -10, -9.5, -10, -9, -8, -9.5, -10, -9, -8, -9, -10, -9.5, -10, -9],
  [-10, -9, -8, -8, -9, -9, -9, -10, -10, -10, -10, -9, -10, -11, -10, -10, -11, -10, -11, -11, -11.5, -10, -10, -11, -10, -9, -10, -9, -10, -9, -8, -9, -8, -9.5, -8, -7, -8, -7, -8.5, -7, -8, -7, -8, -7, -6, -7.5, -6, -7, -8, -7, -6, -7, -6, -5, -6.5, -5, -6, -5, -6, -7, -6],
  [-10, -9, -8, -8, -9, -9, -9, -10, -10, -10, -10, -9, -10, -11, -10, -11, -11, -11, -12, -11, -12.5, -12, -11, -12, -11, -12.5, -11, -12, -11, -12, -11, -10, -11.5, -12, -11, -10, -11, -12, -11, -12.5, -11, -12, -11, -12.5, -11, -10, -11, -10, -11.5, -10, -11, -10, -9, -10.5, -11, -10, -11, -10, -11.5, -12, -11],
  [-10, -9, -8, -8, -9, -9, -9, -10, -10, -10, -10, -9, -10, -11, -10, -10, -11, -11, -11, -12, -11, -12, -12.5, -11, -12, -11, -12, -11, -10, -11, -10, -11, -10.5, -11, -10, -11, -10, -9, -10.5, -11, -10, -9, -10.5, -9, -10, -9, -10, -9.5, -10, -9, -10, -9, -10, -9.5, -8, -9, -10, -9, -8.5, -9, -10],
  [-10, -9, -8, -8, -9, -9, -9, -10, -10, -10, -10, -9, -11, -11, -10, -10, -11, -11, -10, -11, -10, -11.5, -10, -9, -10, -9, -10, -9.5, -10, -9, -10, -9, -8, -9.5, -8, -9, -10, -9, -8, -9.5, -8, -9, -8, -7, -8.5, -9, -8, -9, -8, -9.5, -8, -7, -8.5, -9, -8, -9, -8, -7, -8.5, -9, -8],
  [-10, -9, -8, -8, -9, -9, -9, -10, -10, -10, -10, -9, -10, -11, -10, -11, -11, -12, -11, -12.5, -12, -12, -13, -12, -12.5, -11, -12, -13, -12, -13.5, -12, -13, -14, -13, -12, -13.5, -12, -13, -12, -13, -12, -13, -12.5, -13, -14, -13, -15, -14, -15, -14.5, -13, -14, -13, -12, -13.5, -12, -13, -12, -13, -12.5, -13],
  [-10, -9, -8, -8, -9, -9, -9, -10, -10, -10, -10, -9, -10, -11, -10, -10, -11, -11, -10, -11, -11.5, -10, -11, -10, -11, -10, -11, -10, -9, -10, -9, -10, -9.5, -10, -9, -8, -9, -8, -9.5, -8, -9, -8, -9, -8, -7, -8.5, -7, -6, -7, -6, -7, -6, -5, -6, -4, -5, -6, -5, -6.5, -7, -6],
  [-10, -9, -8, -8, -9, -9, -10, -10, -10, -11, -10, -10, -11, -11, -10, -11, -11, -12, -13, -13.5, -12, -13, -12, -13, -12, -11, -12, -13, -12.5, -12, -11, -12, -11, -12.5, -13, -12, -13, -12, -11, -12.5, -11, -12, -13, -12, -11, -12.5, -11, -12, -13, -12, -13, -12, -11, -12.5, -13, -12, -11, -12, -11, -12.5, -11],
  [-10, -9, -8, -8, -9, -9, -9, -10, -10, -10, -10, -9, -10, -11, -10, -10, -11, -11, -11, -11.5, -11, -11, -10, -11, -11, -10, -11.5, -10, -11, -10, -9, -10, -9, -10.5, -9, -10, -9, -10, -9, -8, -9, -10, -9.5, -8, -9, -8, -9.5, -8, -9, -10, -9, -8, -9.5, -8, -9, -10, -9, -8, -9.5, -8, -9],
  [-10, -9, -8, -8, -9, -9, -9, -10, -10, -10, -10, -9, -10, -11, -10, -10, -11, -11, -11, -12, -12, -11, -12.5, -11, -11, -12, -11, -12, -11, -10, -11, -10, -11.5, -10, -11, -10, -11, -10.5, -9, -10, -9, -10, -11, -10.5, -11, -10, -9, -10.5, -9, -10, -9, -10, -9.5, -10, -11, -10, -9, -10.5, -9, -10, -9],
  [-10, -9, -8, -8, -9, -9, -9, -10, -10, -10, -10, -9, -10, -11, -10, -10, -11, -11, -11, -11, -11.5, -12, -11, -12, -11, -10, -11, -12.5, -11, -10, -10, -9, -10.5, -9, -8, -9, -8, -9.5, -8, -9, -10, -9, -8, -9.5, -8, -9, -8, -9, -10.5, -9, -8, -9, -8.5, -9, -8, -9, -8, -7, -8.5, -9, -8],
  [-10, -9, -8, -8, -9, -9, -9, -10, -10, -10, -10, -9, -10, -11, -10, -10, -11, -10, -11, -10, -11.5, -10, -11, -10, -11, -10, -9, -10, -9.5, -10, -9, -10, -9.5, -8, -9, -8, -9, -10, -9.5, -8, -9, -8, -9.5, -10, -9, -10, -9, -8, -9.5, -10, -9, -10, -9, -8, -9.5, -10, -9, -10, -9, -10.5, -9],
  [-10, -9, -8, -8, -9, -9, -9, -10, -10, -10, -10, -9, -10, -11, -10, -10, -11, -11, -12, -11, -12, -11, -12.5, -12, -11, -12, -11, -12, -11.5, -12, -11, -12, -11, -10, -11.5, -12, -11, -12, -13, -12, -13, -12, -13.5, -12, -11, -12, -13, -12.5, -11, -12, -11, -12, -11.5, -12, -13, -12, -11, -12.5, -11, -12, -11],
  [-10, -9, -8, -8, -9, -9, -9, -10, -10, -10, -10, -9, -10, -11, -10, -10, -11, -10, -10, -11, -10, -10.5, -9, -10, -9, -10, -9, -8, -9, -8.5, -8, -7, -8.5, -7, -8, -7, -6, -7.5, -6, -7, -6, -5, -6.5, -5, -6, -5.5, -6, -5, -6.5, -5, -4.5, -5, -6, -5.5, -6, -5, -6, -5, -6, -5.5, -6],
  [-10, -9, -8, -8, -9, -9, -9, -10, -10, -10, -10, -9, -10, -11, -10, -10, -11, -11, -11, -11.5, -12, -11, -11, -12, -11, -11, -10, -11.5, -10, -11, -10, -11, -10.5, -11, -10, -9, -10, -11, -10.5, -11, -10, -11, -10, -11.5, -12, -11, -12, -11, -10, -11.5, -10, -11, -10, -9, -10.5, -11, -10, -9, -10, -11.5, -10],
  [-10, -9, -8, -8, -9, -9, -9, -10, -10, -10, -10, -9, -10, -11, -10, -11, -11, -12, -12, -13, -13.5, -12, -13, -12, -11, -12, -11, -12.5, -11, -12, -11, -12, -11, -12.5, -11, -10, -11, -12, -11, -12.5, -13, -12, -11, -12.5, -11, -12, -11, -10, -11.5, -12, -11, -12, -11.5, -12, -11, -10, -11, -12.5, -11, -10, -11],
  [-10, -9, -8, -8, -9, -9, -9, -10, -10, -10, -10, -9, -10, -11, -10, -10, -11, -11, -11, -10, -11, -10.5, -11, -10, -11, -10, -11.5, -10, -11, -10, -10, -11, -10.5, -11, -10, -11, -10, -11.5, -10, -11, -10, -11, -10, -11, -12, -11.5, -12, -13, -12, -13, -12, -11, -12.5, -13, -12, -11, -12, -11.5, -12, -11, -12],
  [-10, -9, -8, -8, -9, -9, -9, -10, -10, -10, -10, -9, -10, -11, -10, -10, -11, -10, -11, -11.5, -11, -11, -12, -11, -11, -10, -11, -10.5, -11, -10, -9, -10, -9.5, -10, -9, -10, -11, -10.5, -9, -10, -9, -10, -9.5, -10, -9, -10, -11, -10, -9, -10.5, -9, -10, -9, -10.5, -9, -10, -9, -10, -11, -10.5, -9],
  [-10, -9, -8, -8, -9, -9, -9, -10, -10, -10, -10, -9, -10, -11, -10, -10, -11, -11, -10, -11.5, -10, -11, -10, -11, -10, -9, -10, -9.5, -10, -9, -8, -9, -8.5, -9, -10, -9, -8, -9.5, -8, -7, -8, -7, -8.5, -9, -8, -7, -8, -7, -6, -7.5, -8, -7, -8.5, -7, -6, -7, -6, -7.5, -8, -7, -8],
];

// precipitation per member as [step, mm] pairs, 0 elsewhere
const PERT_PREC = [
  [[2, 0.5], [14, 2], [15, 4], [16, 1.5], [17, 0.5]],
  [[15, 3], [16, 5], [17, 2], [18, 0.5], [48, 1]],
  [[2, 1], [14, 1], [15, 6], [16, 2], [22, 1], [55, 1]],
  [[12, 2], [13, 1], [14, 2.5], [15, 3], [16, 1], [29, 0.5]],
  [[7, 2], [15, 2], [16, 4], [17, 1], [24, 2], [25, 0.5]],
  [[15, 5], [16, 3], [17, 1], [19, 2], [29, 4], [30, 1]],
  [[14, 4], [15, 12.4], [16, 5], [17, 2], [45, 1]],
  [[13, 2], [14, 5], [15, 8], [16, 2], [17, 1], [33, 1]],
  [[15, 3], [16, 2], [22, 2], [23, 1], [42, 7.5], [43, 2]],
  [[15, 9], [16, 13.6], [17, 4], [18, 1], [54, 2]],
  [[14, 2], [15, 5], [16, 3], [19, 7.2], [20, 1], [43, 5.5]],
  [[14, 1.5], [15, 4], [16, 2], [46, 6.5], [47, 1]],
  [[15, 3], [16, 2], [19, 2], [36, 6], [37, 2]],
  [[15, 2], [16, 3], [17, 1.5], [26, 1], [27, 0.5]],
  [[14, 3], [15, 6], [16, 2], [17, 1], [49, 1.5]],
  [[15, 4], [16, 3], [22, 3], [23, 12.9], [24, 2], [54, 5.2]],
  [[14, 2], [15, 7], [16, 3], [44, 3], [45, 1], [59, 5.5]],
  [[15, 2], [16, 4], [17, 1], [43, 3], [44, 1.5]],
  [[15, 5], [16, 3], [17, 1], [32, 1], [60, 2]],
  [[2, 2.4], [7, 2.2], [15, 3], [16, 2], [17, 1], [38, 2]],
  [[15, 4], [16, 5], [17, 2], [18, 1], [39, 3], [40, 1]],
  [[14, 1.5], [15, 3], [16, 2], [40, 2], [41, 0.5]],
  [[15, 2], [16, 3], [17, 1], [18, 1.5], [33, 4], [34, 1]],
  [[12, 1], [13, 2], [14, 1], [15, 3], [16, 2.5], [48, 7], [49, 2]],
  [[15, 3], [16, 6], [17, 1], [43, 12], [44, 3]],
  [[15, 2], [16, 3], [20, 5], [21, 11], [22, 3], [39, 5]],
  [[14, 1], [15, 3], [16, 2], [24, 3], [25, 1], [51, 2]],
  [[15, 2], [16, 4], [19, 5], [20, 2], [56, 1]],
  [[6, 1], [14, 2], [15, 4], [16, 2], [50, 2], [51, 5.6], [52, 1]],
  [[15, 4], [16, 8], [17, 3], [18, 1], [53, 2]],
  [[8, 0.9], [15, 3], [16, 5], [22, 7.9], [23, 2], [35, 3]],
  [[15, 3], [16, 2], [17, 1], [27, 4.1], [28, 1]],
  [[15, 2], [16, 4], [17, 1.5], [29, 3.9], [30, 1], [45, 2]],
  [[14, 1], [15, 3], [16, 2], [37, 2], [42, 1]],
  [[15, 2], [16, 3], [17, 1], [41, 2], [42, 7.7], [43, 2]],
  [[14, 2], [15, 4], [16, 2], [19, 3], [35, 2]],
  [[12, 1], [14, 2], [15, 3], [16, 2], [47, 3.6], [48, 3.6], [52, 9.1], [53, 2]],
  [[15, 2], [16, 4], [17, 1], [38, 10.3], [39, 2]],
  [[15, 3], [16, 2], [46, 1], [56, 2]],
  [[15, 3], [16, 2], [24, 8.4], [25, 2], [54, 7.9], [55, 1]],
  [[15, 2], [16, 3], [17, 1], [58, 2]],
  [[15, 3], [16, 7], [17, 2], [35, 11], [36, 3]],
  [[14, 2], [15, 4], [16, 2], [47, 2]],
  [[15, 2], [16, 3], [17, 1], [59, 3], [60, 11.5]],
  [[15, 3], [16, 2], [17, 1], [19, 14.3], [20, 2], [46, 14.6], [47, 2]],
  [[15, 10.6], [16, 6], [17, 2], [35, 15.7], [36, 4], [53, 6.7]],
  [[15, 2], [16, 4], [17, 1], [59, 6], [60, 6.5]],
  [[15, 3], [16, 4], [17, 1.5], [57, 2], [58, 1]],
  [[15, 2], [16, 5], [17, 1], [48, 8.9], [49, 2], [57, 4.3]],
  [[15, 2], [16, 3], [17, 1], [24, 6.3], [25, 1.5], [29, 1]],
];

const FONT = "'DejaVu Sans Mono', monospace";
const N = 61;

const App: React.FC = () => {
  const svgRef = useRef<SVGSVGElement>(null);

  useEffect(() => {
    if (!svgRef.current) return;
    const svg = d3.select(svgRef.current);
    svg.selectAll('*').remove();

    const left = 50, right = 690, top = 0, bottom = 600;
    // hours since 13/07 06Z
    const x = d3.scaleLinear().domain([0, 360]).range([left, right]);
    // one scale for both temperature panels (left axis)
    const y = d3.scaleLinear().domain([30, -45]).range([22, 547]);
    // precipitation (right axis, lower part)
    const yP = d3.scaleLinear().domain([0, 15]).range([547, 442]);

    svg.append('rect').attr('width', 740).attr('height', 700).attr('fill', '#fff');

    // horizontal grid
    const grid = svg.append('g');
    LEFT_TICKS.forEach(v => {
      const thick = v % 10 === 0;
      grid.append('line')
        .attr('x1', left).attr('x2', right)
        .attr('y1', y(v)).attr('y2', y(v))
        .attr('stroke', v === 0 ? '#a8a8a8' : '#c4c4c4')
        .attr('stroke-width', v === 0 ? 3 : thick ? 2.5 : 1);
    });
    // vertical day lines
    DAYS.forEach((d, k) => {
      const xx = x(18 + 24 * k);
      grid.append('line')
        .attr('x1', xx).attr('x2', xx).attr('y1', top).attr('y2', bottom)
        .attr('stroke', '#c4c4c4').attr('stroke-width', 1.5);
    });

    // axes frame
    svg.append('line').attr('x1', left).attr('x2', left).attr('y1', top).attr('y2', bottom).attr('stroke', '#000').attr('stroke-width', 1.5);
    svg.append('line').attr('x1', right).attr('x2', right).attr('y1', top).attr('y2', bottom).attr('stroke', '#000').attr('stroke-width', 1.5);
    svg.append('line').attr('x1', left).attr('x2', right).attr('y1', bottom).attr('y2', bottom).attr('stroke', '#000').attr('stroke-width', 1);

    const txt = (t: string, xx: number, yy: number, size = 10, weight = 'normal') =>
      svg.append('text')
        .attr('x', xx).attr('y', yy)
        .attr('dominant-baseline', 'central')
        .style('font-family', FONT)
        .style('font-size', `${size}px`)
        .style('font-weight', weight)
        .attr('fill', '#000')
        .text(t);

    LEFT_TICKS.forEach(v => txt(String(v), 19, y(v)));
    RIGHT_TICKS.forEach((v, k) => txt(String(v), 707, y(LEFT_TICKS[k])));

    txt('Temp. 850hPa', 60, 31);
    txt('Temp. 500hPa', 60, 269);
    txt('Précipitations', 59, 522);
    txt('(°C)', 19, 607);
    txt('(mm)', 709, 607);

    // rotated day labels
    DAYS.forEach((d, k) => {
      const xx = x(18 + 24 * k) + 6;
      svg.append('text')
        .attr('x', xx).attr('y', 603)
        .attr('transform', `rotate(-90, ${xx}, 603)`)
        .attr('text-anchor', 'end')
        .attr('dominant-baseline', 'central')
        .style('font-family', FONT)
        .style('font-size', '9.5px')
        .text(d);
    });

    const step = (i: number) => x(i * 6);
    const plot = svg.append('g');

    const drawSeries = (vals: number[], sc: (v: number) => number, color: string, width: number, markers: boolean) => {
      const pts = vals.slice(0, N);
      const line = d3.line<number>().x((d, i) => step(i)).y(d => sc(d));
      plot.append('path')
        .attr('d', line(pts) || '')
        .attr('fill', 'none')
        .attr('stroke', color)
        .attr('stroke-width', width)
        .attr('stroke-linejoin', 'round');
      if (markers) {
        const m = pts.map((d, i) => {
          const px = step(i), py = sc(d);
          return `M${px - 1.5},${py}h3M${px},${py - 1.5}v3`;
        }).join('');
        plot.append('path').attr('d', m).attr('stroke', color).attr('stroke-width', 1).attr('fill', 'none');
      }
    };

    // members
    PERT_850.forEach((s, k) => drawSeries(s, y, PERT_COLORS[k], 1, true));
    PERT_500.forEach((s, k) => drawSeries(s, y, PERT_COLORS[k], 1, true));
    PERT_PREC.forEach((ev, k) => {
      const s = new Array(N).fill(0);
      ev.forEach(([i, v]) => { s[i] = v; });
      drawSeries(s, yP, PERT_COLORS[k], 1, true);
    });

    // deterministic, control, mean
    drawSeries(DET_850, y, '#000', 3, false);
    drawSeries(DET_500, y, '#000', 3, false);
    drawSeries(DET_PREC, yP, '#000', 3, false);
    drawSeries(CTRL_850, y, '#0000ff', 3, false);
    drawSeries(CTRL_500, y, '#0000ff', 3, false);
    drawSeries(CTRL_PREC, yP, '#0000ff', 3, false);
    drawSeries(MEAN_850, y, '#ff0000', 4, false);
    drawSeries(MEAN_500, y, '#ff0000', 4, false);
    drawSeries(MEAN_PREC, yP, '#ff0000', 4, false);

    // legend
    const leg = (x1: number, yy: number, color: string) =>
      svg.append('line').attr('x1', x1).attr('x2', x1 + 30).attr('y1', yy).attr('y2', yy).attr('stroke', color).attr('stroke-width', 4);
    leg(35, 639, '#ff0000');
    txt('Moyenne des scénarios', 74, 639);
    leg(225, 639, '#0000ff');
    txt('Contrôle', 264, 638);
    leg(225, 650, '#000');
    txt('Dét. AIFSv1', 264, 650);

    txt('50 Perts.', 369, 652);
    const cellW = 10.77;
    PERT_COLORS.forEach((c, k) => {
      const row = k < 25 ? 0 : 1;
      const col = k % 25;
      const cx = 433 + col * cellW;
      svg.append('rect')
        .attr('x', cx).attr('y', 646 + row * 6.5)
        .attr('width', cellW - 1).attr('height', 6.5)
        .attr('fill', c);
      svg.append('text')
        .attr('x', cx + (cellW - 1) / 2)
        .attr('y', row === 0 ? 639 : 663)
        .attr('text-anchor', 'middle')
        .attr('dominant-baseline', 'central')
        .style('font-family', FONT)
        .style('font-size', '7.5px')
        .style('font-weight', 'bold')
        .style('letter-spacing', '-0.5px')
        .text(String(k + 1).padStart(2, '0'));
    });

    // title box
    svg.append('rect')
      .attr('x', 20.5).attr('y', 667.5).attr('width', 421).attr('height', 40)
      .attr('fill', '#fff').attr('stroke', '#000').attr('stroke-width', 1);
    txt('Diagramme ensembles ECMWF AIFS 0.25° sur 360h pour Toulouse', 29, 677, 11.6, 'bold');
    txt('Températures 850hPa et 500hPa (°C) , précipitations (mm)', 29, 691, 9.7);
    txt('Ensemble ECMWF AIFS du 13/07/2026 - 06Z', 449, 675, 9.9);
    txt('Copyright 2026 Meteociel.fr - ECMWF', 449, 691, 11.5, 'bold');
  }, []);

  return (
    <svg
      ref={svgRef}
      width={740}
      height={700}
      style={{ position: 'absolute', left: 0, top: 0, display: 'block' }}
    />
  );
};

export default App;
